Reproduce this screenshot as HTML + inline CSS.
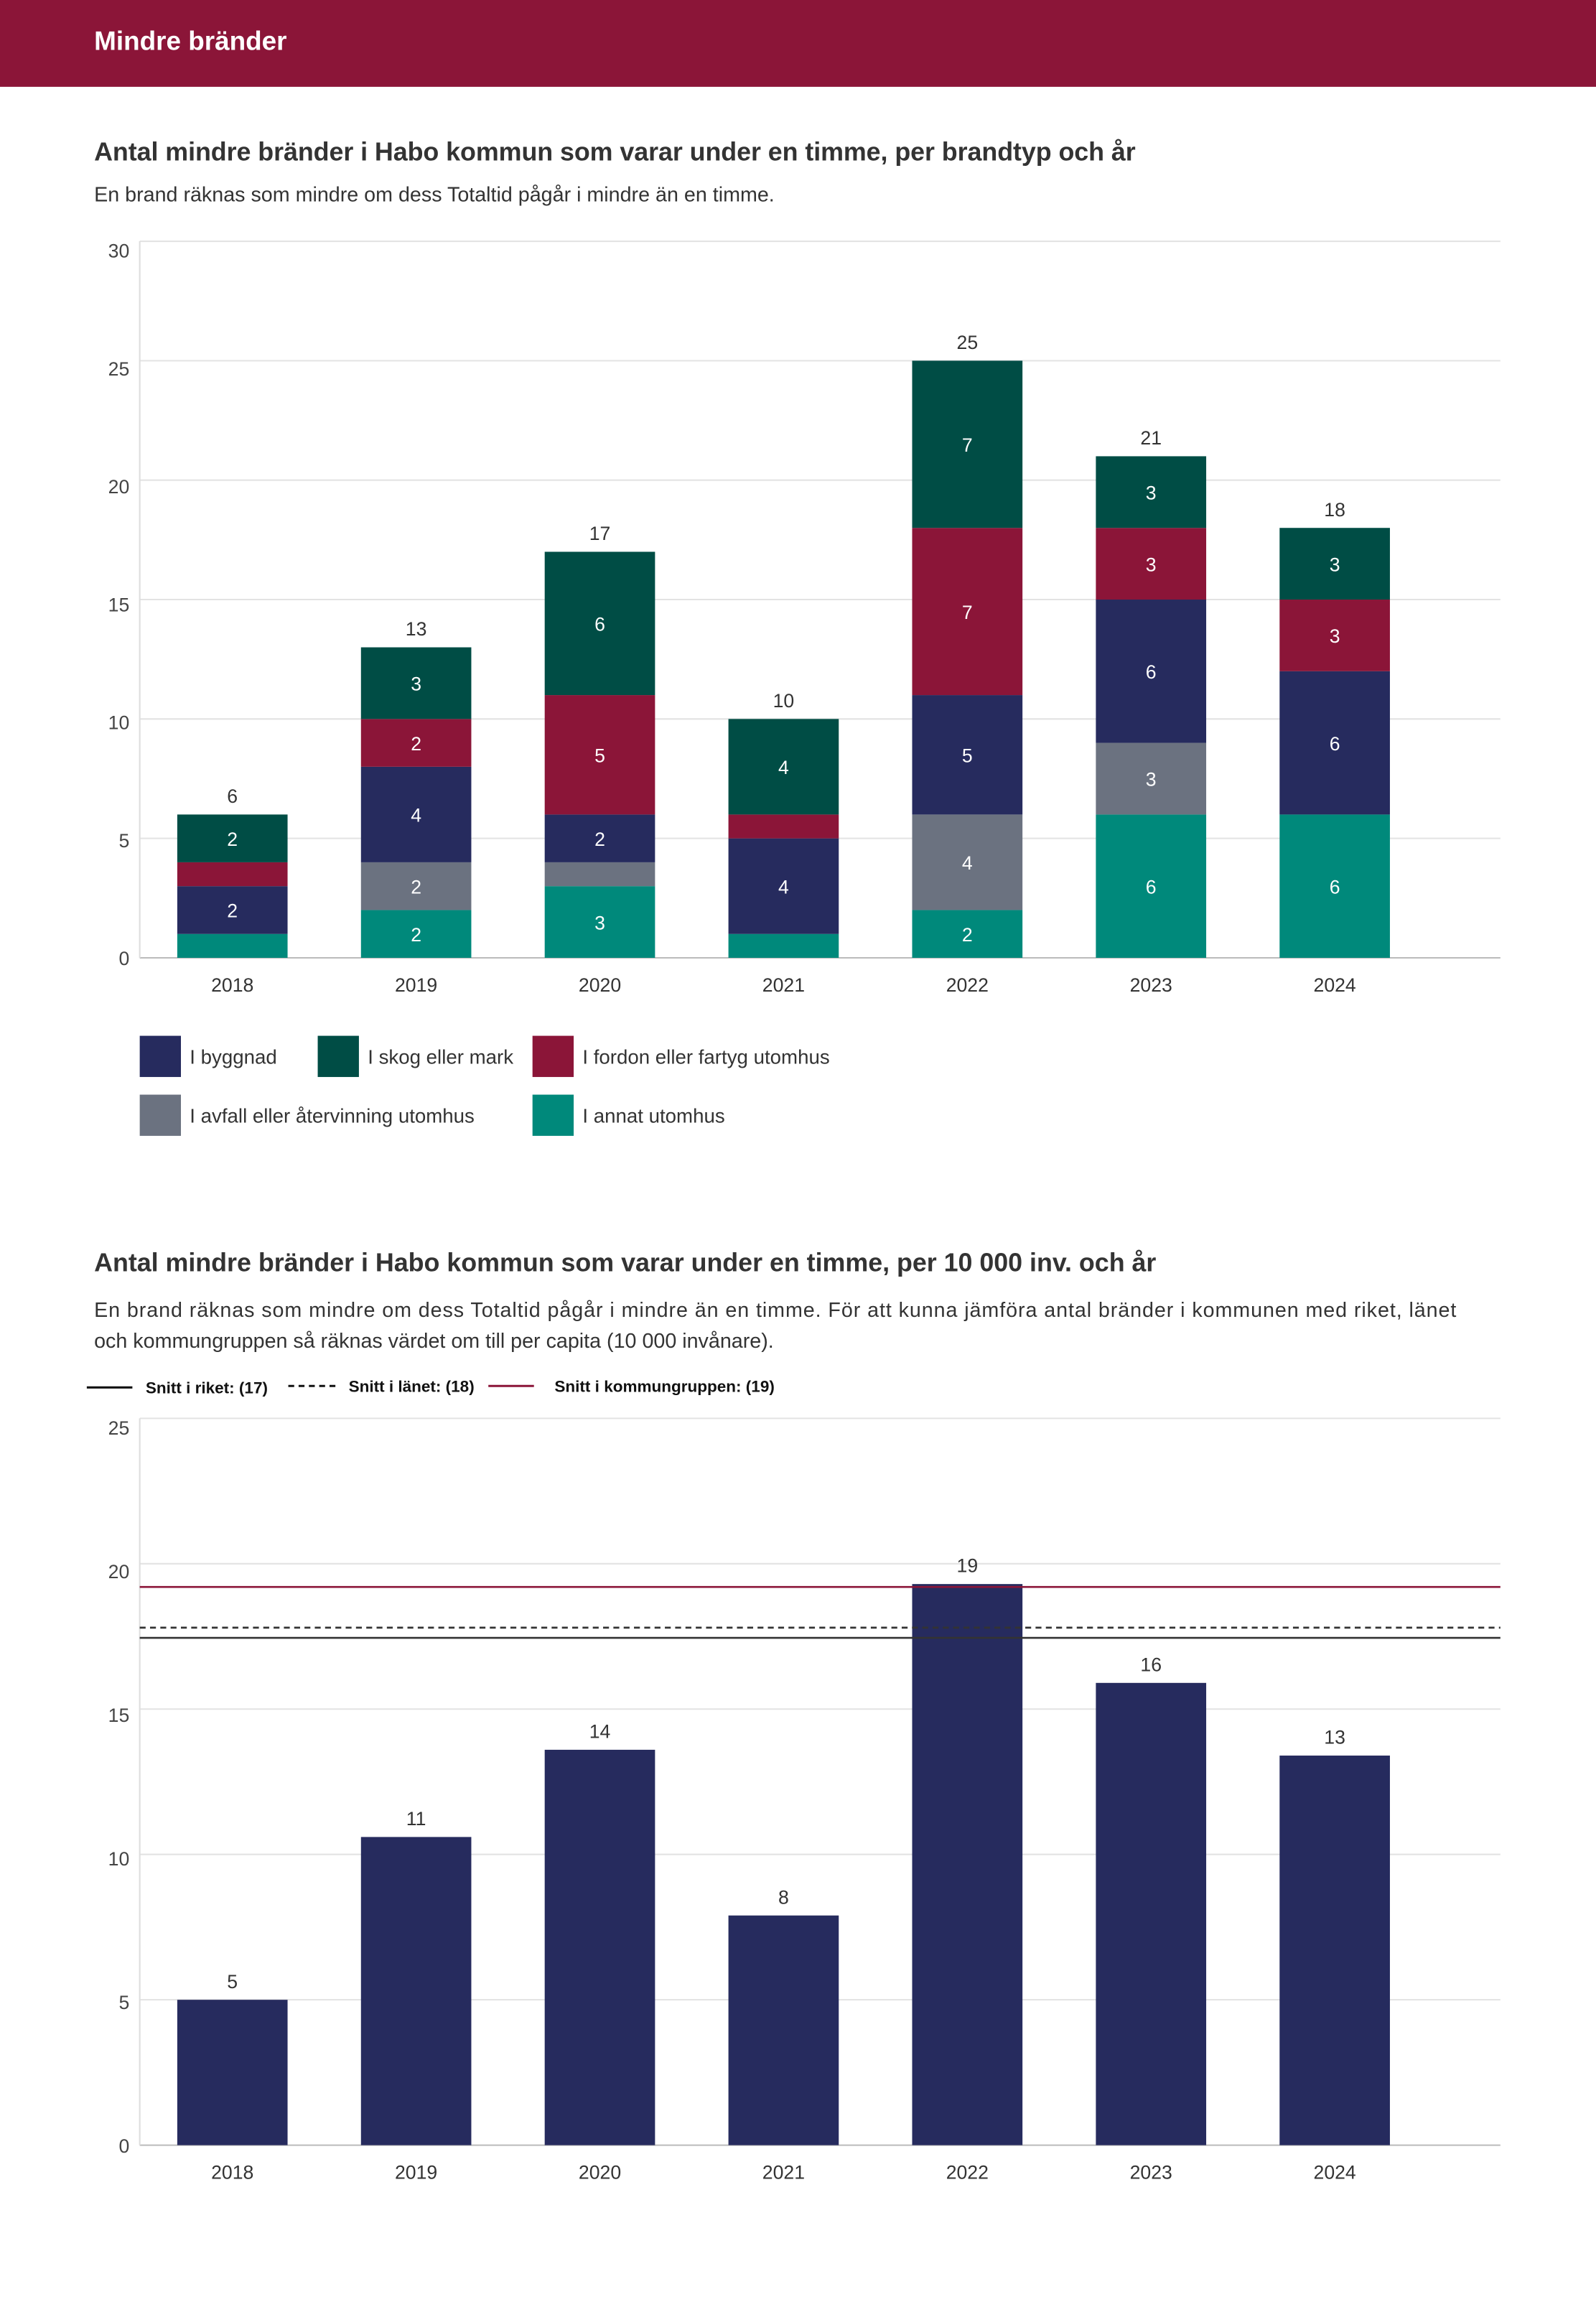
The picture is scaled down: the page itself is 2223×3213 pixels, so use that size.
<!DOCTYPE html>
<html><head><meta charset="utf-8"><style>
html,body{margin:0;padding:0;background:#fff}
svg{display:block;font-family:"Liberation Sans",sans-serif}
</style></head><body>
<svg id="svg" width="2223" height="3213" viewBox="0 0 1085 1568" preserveAspectRatio="none" xmlns="http://www.w3.org/2000/svg">
<rect x="0" y="0" width="1085" height="59" fill="#8b1538"/>
<text x="64" y="34" fill="#fff" font-size="18" font-weight="bold">Mindre bränder</text>
<text x="64" y="109" fill="#333" font-size="17.5" font-weight="bold" textLength="708">Antal mindre bränder i Habo kommun som varar under en timme, per brandtyp och år</text>
<text x="64" y="137" fill="#333" font-size="14">En brand räknas som mindre om dess Totaltid pågår i mindre än en timme.</text>
<g id="c1"></g>
<g id="leg1"></g>
<text x="64" y="864" fill="#333" font-size="17.5" font-weight="bold" textLength="722">Antal mindre bränder i Habo kommun som varar under en timme, per 10 000 inv. och år</text>
<text x="64" y="895" fill="#333" font-size="14" textLength="926">En brand räknas som mindre om dess Totaltid pågår i mindre än en timme. För att kunna jämföra antal bränder i kommunen med riket, länet</text>
<text x="64" y="916" fill="#333" font-size="14">och kommungruppen så räknas värdet om till per capita (10 000 invånare).</text>
<g>
<line x1="59" y1="943" x2="90" y2="943" stroke="#111" stroke-width="1.5"/>
<text x="99" y="947" font-size="11" font-weight="bold" fill="#111">Snitt i riket: (17)</text>
<line x1="196" y1="942" x2="228" y2="942" stroke="#111" stroke-width="1.5" stroke-dasharray="4,3"/>
<text x="237" y="946" font-size="11" font-weight="bold" fill="#111">Snitt i länet: (18)</text>
<line x1="332" y1="942" x2="363" y2="942" stroke="#8b1538" stroke-width="1.5"/>
<text x="377" y="946" font-size="11" font-weight="bold" fill="#111">Snitt i kommungruppen: (19)</text>
</g>
<g id="c2"></g>
</svg>
<script>
const years=["2018","2019","2020","2021","2022","2023","2024"];
const annat=[1,2,3,1,2,6,6];
const avfall=[0,2,1,0,4,3,0];
const byggnad=[2,4,2,4,5,6,6];
const fordon=[1,2,5,1,7,3,3];
const skog=[2,3,6,4,7,3,3];
const ticks1=[0,5,10,15,20,25,30];
const perCapita=[5.0,10.6,13.6,7.9,19.3,15.9,13.4];
const ticks2=[0,5,10,15,20,25];
const riket=17.45, lanet=17.8, kommungrupp=19.2;

const NS="http://www.w3.org/2000/svg";
function mk(tag,attrs,parent,txt){const e=document.createElementNS(NS,tag);for(const k in attrs)e.setAttribute(k,attrs[k]);if(txt!==undefined)e.textContent=txt;parent.appendChild(e);return e;}
const X0=95,X1=1020,bw=75;
function xc(i){return 158+i*124.9;}

const c1=document.getElementById('c1');
const y1=v=>651-v*(487/30);
ticks1.forEach(t=>{
 const l=mk('line',{x1:X0,x2:X1,y1:y1(t),y2:y1(t),stroke:t===0?'#bbb':'#e3e3e3','stroke-width':1},c1);
 
 const tx=mk('text',{x:88,y:y1(t)+5+(t/30)*6,'text-anchor':'end','font-size':13,fill:'#444'},c1,t);
 
});
const ax=mk('line',{x1:X0,x2:X0,y1:y1(30),y2:y1(0),stroke:'#ddd'},c1);

const series=[["annat",annat,"#00897b"],["avfall",avfall,"#6b7280"],["byggnad",byggnad,"#262b5e"],["fordon",fordon,"#8b1538"],["skog",skog,"#004d45"]];
years.forEach((yr,i)=>{
 let base=0;
 series.forEach(([nm,arr,col])=>{
  const v=arr[i]; if(!v) return;
  const r=mk('rect',{x:xc(i)-bw/2,y:y1(base+v),width:bw,height:y1(base)-y1(base+v),fill:col},c1);
  
  if(v>=2){const t=mk('text',{x:xc(i),y:(y1(base)+y1(base+v))/2+5,'text-anchor':'middle','font-size':13,fill:'#fff'},c1,v);
   }
  base+=v;
 });
 const tt=mk('text',{x:xc(i),y:y1(base)-8,'text-anchor':'middle','font-size':13,fill:'#333'},c1,base);
 
 const xl=mk('text',{x:xc(i),y:674,'text-anchor':'middle','font-size':13,fill:'#333'},c1,yr);
 
});
const leg1=document.getElementById('leg1');
[["I byggnad","#262b5e",95,704],["I skog eller mark","#004d45",216,704],["I fordon eller fartyg utomhus","#8b1538",362,704],["I avfall eller återvinning utomhus","#6b7280",95,744],["I annat utomhus","#00897b",362,744]].forEach(([lab,col,x,y])=>{
 const r=mk('rect',{x:x,y:y,width:28,height:28,fill:col},leg1);
 
 const t=mk('text',{x:x+34,y:y+19,'font-size':13.5,fill:'#333'},leg1,lab);
 
});

const c2=document.getElementById('c2');
const y2=v=>1458-v*(494/25);
ticks2.forEach(t=>{
 const l=mk('line',{x1:X0,x2:X1,y1:y2(t),y2:y2(t),stroke:t===0?'#bbb':'#e3e3e3'},c2);
 
 const tx=mk('text',{x:88,y:y2(t)+5+(t/25)*6,'text-anchor':'end','font-size':13,fill:'#444'},c2,t);
 
});
const ax2=mk('line',{x1:X0,x2:X0,y1:y2(25),y2:y2(0),stroke:'#ddd'},c2);

years.forEach((yr,i)=>{
 const v=perCapita[i];
 const r=mk('rect',{x:xc(i)-bw/2,y:y2(v),width:bw,height:y2(0)-y2(v),fill:'#262b5e'},c2);
 
 const t=mk('text',{x:xc(i),y:y2(v)-8,'text-anchor':'middle','font-size':13,fill:'#333'},c2,Math.round(v));
 
 const xl=mk('text',{x:xc(i),y:1481,'text-anchor':'middle','font-size':13,fill:'#333'},c2,yr);
 
});
const lr=mk('line',{x1:X0,x2:X1,y1:y2(riket),y2:y2(riket),stroke:'#333','stroke-width':1.3},c2);

const ll=mk('line',{x1:X0,x2:X1,y1:y2(lanet),y2:y2(lanet),stroke:'#333','stroke-width':1.3,'stroke-dasharray':'4,3'},c2);

const lk=mk('line',{x1:X0,x2:X1,y1:y2(kommungrupp),y2:y2(kommungrupp),stroke:'#8b1538','stroke-width':1.3},c2);

</script>
</body></html>
